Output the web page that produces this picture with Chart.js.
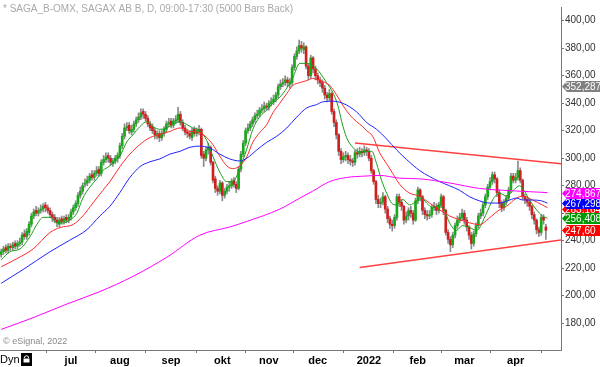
<!DOCTYPE html>
<html>
<head>
<meta charset="utf-8">
<script src="https://cdn.jsdelivr.net/npm/chart.js@4.4.1/dist/chart.umd.min.js"></script>
<style>
html, body { margin: 0; padding: 0; background: #fff; }
</style>
</head>
<body>
<canvas id="chart" width="600" height="367"></canvas>
<script>
// daily candles, index 0 = first bar on the left
const opens = [
  230,232,235,233,236,235,238,236,238,239,
  245,243,246,252,258,262,260,262,263,266,
  264,262,259,257,255,252,256,254,257,255,
  257,261,264,267,273,276,281,282,284,288,
  286,289,292,289,297,299,302,300,296,298,
  300,302,309,316,322,324,319,321,325,328,
  330,334,332,329,325,323,320,316,318,315,
  318,321,325,327,324,327,328,332,326,322,
  319,318,315,321,318,319,321,303,300,306,
  308,297,285,278,276,282,273,276,279,280,
  284,281,278,292,303,311,320,322,325,328,
  331,332,335,336,338,337,340,341,343,346,
  352,354,355,357,354,355,366,374,378,382,
  379,381,367,360,373,365,360,357,355,351,
  346,344,347,334,326,317,305,299,301,302,
  299,298,297,304,303,305,304,306,305,300,
  291,283,270,267,268,272,263,256,252,251,
  257,272,268,265,255,258,262,260,255,269,
  277,272,262,259,258,259,264,265,262,266,
  272,262,246,241,237,244,251,255,257,260,
  255,250,244,238,245,251,258,260,266,272,
  279,283,288,285,275,267,264,268,271,277,
  287,284,286,291,284,272,270,268,265,259,
  255,248,246,257,250
];
const closes = [
  232,234,233,236,235,237,236,238,239,244,
  243,247,252,258,261,260,262,263,265,264,
  262,259,257,255,253,255,254,256,255,257,
  261,264,267,273,276,280,282,284,287,286,
  289,291,289,297,299,301,300,297,298,300,
  302,309,316,322,323,320,321,325,328,330,
  333,332,329,325,322,320,317,318,315,318,
  321,325,326,324,327,328,332,326,322,319,
  318,316,320,318,320,321,302,300,306,308,
  297,284,278,276,282,273,276,279,280,283,
  281,278,292,303,311,320,322,325,328,331,
  332,335,336,338,337,340,341,343,346,352,
  354,355,357,355,355,366,374,378,382,380,
  381,367,360,373,365,360,357,355,351,346,
  344,347,334,326,317,305,299,301,302,299,
  298,297,304,303,305,304,306,305,300,291,
  283,270,267,268,272,263,256,252,251,257,
  272,268,265,255,258,262,260,255,269,277,
  272,262,259,258,259,264,265,262,266,272,
  262,246,241,237,244,251,255,257,260,255,
  250,244,238,245,251,258,260,266,272,279,
  283,288,285,275,267,264,268,271,277,287,
  284,286,291,284,272,270,268,265,259,255,
  248,246,257,255,247.6
];
const highs = [
  234,236,237,238,238,239,240,240,242,246,
  248,249,254,260,263,265,264,266,267,268,
  266,264,261,259,257,257,258,258,259,259,
  263,266,269,275,279,282,285,287,289,291,
  291,294,294,299,302,304,304,302,300,302,
  304,311,318,325,326,326,324,327,330,333,
  336,336,334,331,327,325,322,320,320,320,
  323,327,329,329,329,331,337,334,328,324,
  321,320,322,323,322,324,322,305,308,311,
  309,298,287,280,284,283,278,281,283,285,
  286,283,294,305,313,322,325,327,330,333,
  335,337,339,341,340,342,344,346,348,354,
  357,358,360,359,358,368,376,381,386,385,
  384,382,369,375,374,367,362,359,357,353,
  348,350,348,336,328,318,307,304,305,304,
  302,300,306,307,308,307,309,308,307,302,
  292,284,273,271,275,273,265,258,255,259,
  274,274,270,266,261,264,265,262,271,279,
  278,273,264,262,262,266,268,267,268,274,
  273,263,248,243,246,253,258,260,263,262,
  257,251,246,247,253,260,263,268,274,281,
  286,290,290,286,277,269,270,273,279,289,
  289,289,298,293,285,274,272,270,266,261,
  256,250,259,259,252
];
const lows = [
  228,230,231,231,233,233,234,234,236,237,
  241,241,244,250,256,258,258,260,261,261,
  260,257,254,253,250,250,252,252,253,253,
  255,259,262,265,271,274,279,280,282,284,
  284,287,287,287,295,297,297,295,294,296,
  297,300,307,314,320,318,317,319,323,326,
  328,329,327,323,320,318,314,314,312,313,
  316,319,323,322,322,325,326,324,320,317,
  315,314,313,316,316,317,300,294,298,303,
  295,282,275,273,274,269,271,274,276,278,
  279,275,277,290,301,309,318,320,323,326,
  329,330,333,334,335,335,338,339,341,344,
  350,352,353,352,351,353,364,372,376,377,
  376,365,357,358,362,357,354,352,348,343,
  341,342,332,323,314,302,296,297,298,296,
  295,294,295,300,301,301,302,302,298,289,
  281,267,264,264,266,260,253,249,247,249,
  255,265,262,252,253,255,257,252,254,267,
  269,259,256,255,256,257,262,259,260,264,
  259,244,238,232,235,242,249,253,255,252,
  247,241,234,236,243,249,256,258,264,270,
  277,281,282,272,264,261,262,266,269,275,
  282,282,284,282,270,267,265,262,256,252,
  245,243,244,252,241
];

// moving averages: [bar index, value]
const maGreen = [[0,226],[3.8,232],[8.1,234],[12.4,243],[15.4,252],[18,257],[21,257],[24,253],[26.5,253],[29.5,255],[32.5,260],[35.1,271],[38.1,279],[41.1,285],[43.7,291],[46.7,294.5],[51,301.6],[54,312],[56.6,317],[59.6,323],[62.6,326.6],[65.2,323],[68.2,321],[71.2,322],[73.7,324.5],[76.8,326.6],[79.8,324.5],[82.3,322],[85.3,320],[88.3,313],[90.9,301.6],[93.9,290],[96.9,283],[99.5,283],[102.5,292.4],[105.5,306.6],[108.1,321],[111,330],[114.1,335],[116.7,340],[119.7,344.4],[122.7,351],[125.3,358.6],[128.3,369],[131.3,369],[135.5,365],[139.8,355],[142.4,348],[144.6,338.7],[146.3,326.6],[148.4,315],[151,308],[154,304.5],[157,305],[159.2,305],[161.3,296],[163.4,284],[165.6,274.6],[167.7,267.4],[169.9,266],[172.5,270],[175.5,266],[178.5,268.9],[180.6,271],[182.8,267.4],[185.3,264],[188.3,266],[190.5,261.7],[192.6,253],[195.6,247.5],[198.2,251],[201.2,249.6],[204.2,247.5],[208.5,260],[211.1,269.6],[214.1,274.6],[217.1,272.4],[219.7,276],[222.7,280],[224.8,276],[227,269.6],[230,262.5],[232.5,258],[234.7,256.4]];
const maRed = [[0,221],[6.8,227],[13.7,234],[21,246],[25.3,249.6],[30.8,251.7],[35.1,258],[39.4,267.4],[43.7,276.7],[46.7,283],[51,293.8],[55.3,303],[59.6,310],[63.9,315],[68.2,317.3],[72.5,319.5],[76.8,322],[81,319.5],[85.3,318.7],[88.3,315],[90.9,310],[93.9,301.6],[96.9,294.5],[99.5,292.4],[102.5,294.5],[105.5,301],[108.1,311.6],[111.1,318.7],[114.1,324.5],[116.7,333],[119.7,340],[122.7,347],[125.3,353],[128.3,355],[131.3,356.5],[133.8,358],[136.8,356.5],[141.1,353],[144.1,346],[146.7,338.7],[149.7,331.6],[152.7,326.6],[155.3,323],[157,320],[159.6,316],[162.6,304],[165.6,296],[168.2,289],[171.2,281],[175.5,274.6],[179.8,272.4],[184,267.4],[188.3,262.5],[192.6,258],[196.9,255.3],[201.2,253],[205.5,251.7],[209.8,256.7],[214.1,262.5],[217.1,265],[221.4,271],[224,272.4],[228.3,269.6],[232.5,266],[234.7,264]];
const maBlue = [[0,209],[9.4,219],[21,232],[29.5,240.4],[36.8,248],[42.4,258],[46.7,265],[51,275],[55.3,286],[59.6,293.8],[63.9,297.4],[68.2,299.5],[72.5,303],[76.8,305],[81.1,308],[85.3,308.8],[89.6,307.5],[93.9,303],[98.2,299.5],[102.5,298],[105.5,300],[109.8,306],[114.1,311.6],[118.4,316],[122.7,322],[127,330],[131.3,336.6],[135.5,339],[138.1,341],[142.4,341.5],[146.7,340],[152.7,333.7],[157,326],[161.3,321],[165.6,314],[169.9,306],[174.2,299],[179.8,291],[184,286.7],[188.3,283],[192.6,280],[196.9,276.7],[201.2,272],[205.5,269],[209.8,267.4],[214.1,267.4],[218.4,269.6],[221.4,271],[224,269.6],[228.3,269.6],[232.1,269],[234.7,267.3]];
const maMagenta = [[0,175.5],[13.7,184],[28.3,194],[42.4,203],[56.6,214],[71.2,228],[85.3,244],[98.2,250],[105.5,254],[119.7,263],[128.3,271],[133.8,276],[141.1,283],[148.4,286],[156.2,287],[162.6,287.5],[171.2,285.5],[179.8,285],[192.6,282],[205.5,278],[215.4,276.7],[234.7,275]];

// hand-drawn trend lines: [bar index, value]
const upperTrend = [[152, 311], [240.5, 296]];
const lowerTrend = [[154, 220.5], [240.5, 240.5]];

// axes
const monthTicks = [30, 51, 73, 95, 115, 136, 158, 179, 199, 221];
const monthLabels = ['jul', 'aug', 'sep', 'okt', 'nov', 'dec', '2022', 'feb', 'mar', 'apr'];
const priceTicks = [180, 200, 220, 240, 260, 280, 300, 320, 340, 360, 380, 400];

// right-hand value tags
const tagValues = [263.164, 352.287, 267.298, 274.867, 256.408, 247.60];
const tagTexts = ['263,164', '352,287', '267,298', '274,867', '256,408', '247,60'];
const tagColors = ['#ff0000', '#808080', '#0000ff', '#ff00ff', '#009900', '#ff0000'];

const titleText = '* SAGA_B-OMX, SAGAX AB B, D, 09:00-17:30 (5000 Bars Back)';
const FONT = '"Liberation Sans", Arial, sans-serif';

const toXY = pts => pts.map(p => ({x: p[0], y: p[1]}));
const wicks = closes.map((c, i) => ({x: i, y: [lows[i], highs[i]]}));
const bodies = closes.map((c, i) => ({x: i, y: [opens[i], c]}));
const bodyColors = closes.map((c, i) => c > opens[i] ? '#19a819' : (c < opens[i] ? '#d11f1f' : '#999999'));

function maLine(pts, color) {
  return {
    type: 'line', data: toXY(pts), borderColor: color, borderWidth: 1,
    pointRadius: 0, cubicInterpolationMode: 'monotone', order: 0
  };
}
function trendLine(pts) {
  return {
    type: 'line', data: toXY(pts), borderColor: 'rgba(255,30,30,0.85)', borderWidth: 1.5,
    pointRadius: 0, order: 0
  };
}

const overlay = {
  id: 'overlay',
  afterDraw(chart) {
    const ctx = chart.ctx;
    const ys = chart.scales.y;
    const area = chart.chartArea;
    ctx.save();
    ctx.textBaseline = 'middle';
    ctx.textAlign = 'left';
    ctx.font = '10px ' + FONT;
    ctx.fillStyle = '#a9a9a9';
    ctx.fillText(titleText, 3, 9);
    ctx.font = '9px ' + FONT;
    ctx.fillStyle = '#8a8a8a';
    ctx.fillText('\u00a9 eSignal, 2022', 3, area.bottom - 8);

    // bottom-left "Dyn" + lock
    ctx.font = '11px ' + FONT;
    ctx.fillStyle = '#000';
    ctx.fillText('Dyn', 0, 360);
    ctx.fillRect(21, 353, 11, 13);
    ctx.strokeStyle = '#fff';
    ctx.lineWidth = 1;
    ctx.beginPath();
    ctx.arc(26.5, 358, 2.2, Math.PI, 0);
    ctx.stroke();
    ctx.fillStyle = '#fff';
    ctx.fillRect(23.5, 358.5, 6, 4);

    // value tags on the price axis
    ctx.font = '10px ' + FONT;
    tagValues.forEach((v, k) => {
      const y = Math.round(ys.getPixelForValue(v)) + 0.5;
      ctx.fillStyle = tagColors[k];
      ctx.beginPath();
      ctx.moveTo(area.right + 1, y);
      ctx.lineTo(area.right + 6, y - 5.5);
      ctx.lineTo(600, y - 5.5);
      ctx.lineTo(600, y + 5.5);
      ctx.lineTo(area.right + 6, y + 5.5);
      ctx.closePath();
      ctx.fill();
      ctx.fillStyle = '#fff';
      ctx.fillText(tagTexts[k], area.right + 4, y + 0.5);
    });
    ctx.restore();
  }
};

new Chart(document.getElementById('chart'), {
  type: 'bar',
  data: {
    datasets: [
      maLine(maMagenta, '#ff00ff'),
      maLine(maBlue, '#2222ff'),
      maLine(maRed, '#ff2a2a'),
      maLine(maGreen, '#1a9e1a'),
      trendLine(upperTrend),
      trendLine(lowerTrend),
      {
        data: bodies, backgroundColor: bodyColors, barThickness: 2,
        grouped: false, order: 1
      },
      {
        data: wicks, backgroundColor: '#8a8a8a', barThickness: 1,
        grouped: false, order: 2
      }
    ]
  },
  options: {
    responsive: false,
    animation: false,
    events: [],
    layout: { padding: 0 },
    plugins: { legend: { display: false }, tooltip: { enabled: false } },
    scales: {
      x: {
        type: 'linear', min: -0.5, max: 240.5, offset: false,
        afterBuildTicks: s => { s.ticks = monthTicks.map(v => ({value: v})); },
        afterFit: s => { s.height = 17; },
        ticks: {
          autoSkip: false, maxRotation: 0, padding: 1, color: '#000',
          font: { family: FONT, size: 11, weight: 'bold' },
          callback: (v, i) => monthLabels[i]
        },
        grid: { drawOnChartArea: false, drawTicks: true, tickLength: 3, color: '#777' },
        border: { display: true, color: '#777' }
      },
      y: {
        position: 'right', min: 160.5, max: 410,
        afterBuildTicks: s => { s.ticks = priceTicks.map(v => ({value: v})); },
        afterFit: s => { s.width = 39; },
        ticks: {
          padding: 1, color: '#333',
          font: { family: FONT, size: 10 },
          callback: v => v.toFixed(2).replace('.', ',')
        },
        grid: { drawOnChartArea: false, drawTicks: true, tickLength: 3, color: '#777' },
        border: { display: true, color: '#777' }
      }
    }
  },
  plugins: [overlay]
});
</script>
</body>
</html>
